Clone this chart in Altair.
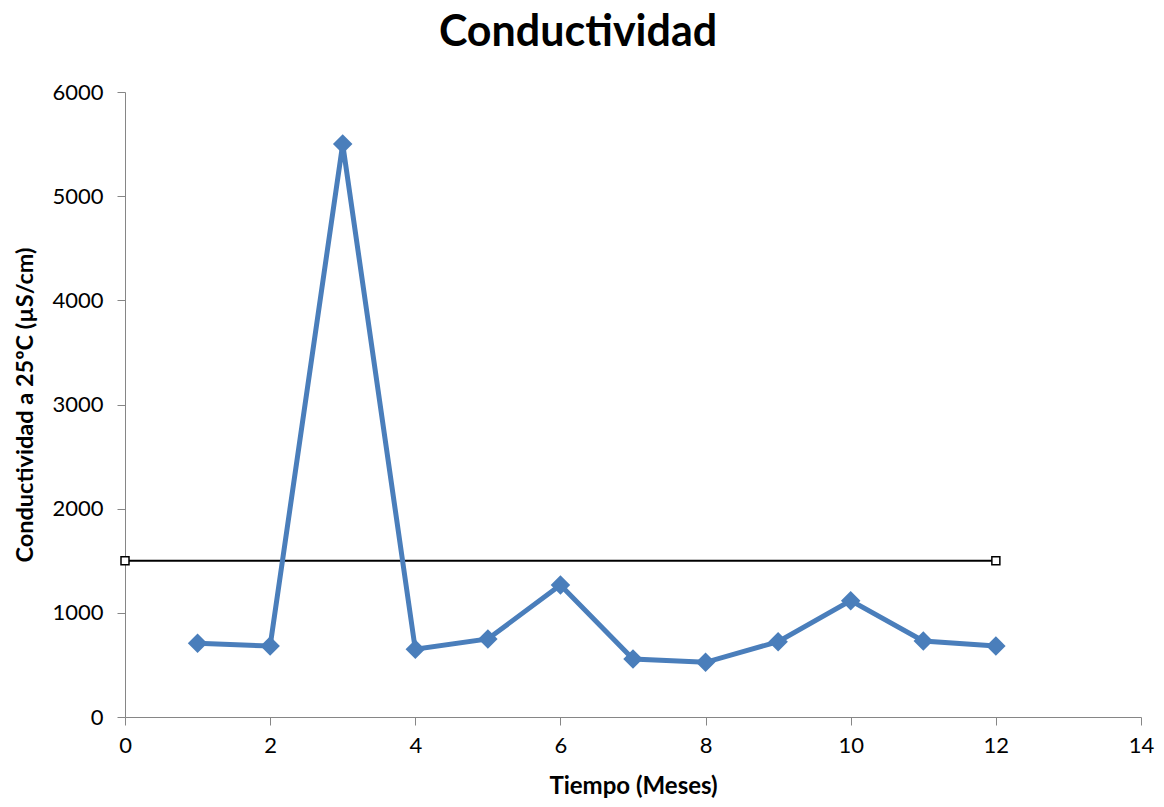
import altair as alt
import pandas as pd

meses = [1, 2, 3, 4, 5, 6, 7, 8, 9, 10, 11, 12]
conductividad = [707, 682, 5500, 650, 749, 1267, 557, 525, 723, 1117, 730, 682]
limite_x = [0, 12]
limite_y = [1500, 1500]

df = pd.DataFrame({"x": meses, "y": conductividad})
dl = pd.DataFrame({"x": limite_x, "y": limite_y})

FONT = "Lato"
xs = alt.Scale(domain=[0, 14], nice=False, zero=True)
ys = alt.Scale(domain=[0, 6000], nice=False)

xaxis = alt.Axis(values=list(range(0, 15, 2)), format="d", title="Tiempo (Meses)", grid=False,
                 domainColor="#868686", tickColor="#868686", tickSize=8, labelFlush=False,
                 labelFontSize=22, labelFont=FONT, labelColor="#000000", labelPadding=10,
                 titleFont=FONT, titleFontSize=24, titleFontWeight="bold", titleColor="#000000",
                 titlePadding=18)
yaxis = alt.Axis(values=list(range(0, 6001, 1000)), format="d", title="Conductividad a 25ºC (µS/cm)", grid=False,
                 domainColor="#868686", tickColor="#868686", tickSize=8, labelFlush=False,
                 labelFontSize=22, labelFont=FONT, labelColor="#000000", labelPadding=14,
                 titleFont=FONT, titleFontSize=23.5, titleFontWeight="bold", titleColor="#000000",
                 titlePadding=14)

line = alt.Chart(df).mark_line(color="#4a7ebb", strokeWidth=5).encode(
    x=alt.X("x:Q", scale=xs, axis=xaxis),
    y=alt.Y("y:Q", scale=ys, axis=yaxis),
)
pts = alt.Chart(df).mark_point(shape="diamond", filled=True, size=380, color="#4a7ebb", opacity=1).encode(
    x=alt.X("x:Q", scale=xs), y=alt.Y("y:Q", scale=ys)
)
lim = alt.Chart(dl).mark_line(color="#000000", strokeWidth=2).encode(
    x=alt.X("x:Q", scale=xs), y=alt.Y("y:Q", scale=ys)
)
limpts = alt.Chart(dl).mark_point(shape="square", filled=True, size=64, fill="#ffffff",
                                  stroke="#000000", strokeWidth=1.5, opacity=1).encode(
    x=alt.X("x:Q", scale=xs), y=alt.Y("y:Q", scale=ys)
)

chart = alt.layer(lim, limpts, line, pts).properties(
    width=1016, height=625,
    title=alt.TitleParams("Conductividad", font=FONT, fontSize=43, fontWeight="bold",
                          color="#000000", anchor="middle", offset=26, dx=-55),
    autosize=alt.AutoSizeParams(type="none"),
    padding={"left": 125, "top": 92, "right": 23, "bottom": 90},
).configure(background="#ffffff").configure_view(stroke="transparent", strokeWidth=0)

chart.save("out.html", embed_options={"renderer": "svg", "actions": False})
